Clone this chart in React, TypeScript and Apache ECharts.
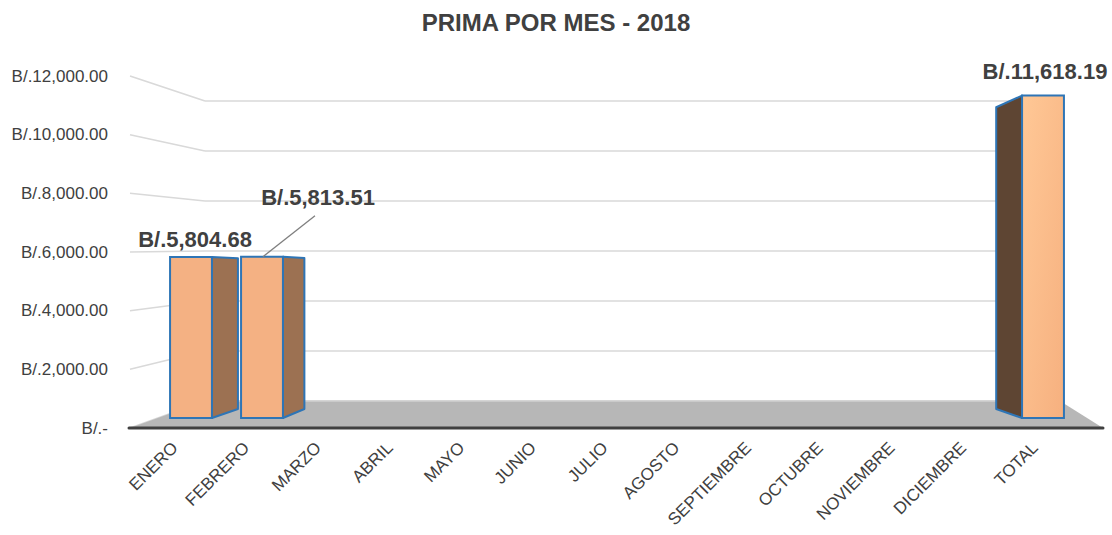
import React, { useEffect, useRef } from 'react';
import * as echarts from 'echarts';

const chartTitle = 'PRIMA POR MES - 2018';
const categories = ['ENERO', 'FEBRERO', 'MARZO', 'ABRIL', 'MAYO', 'JUNIO', 'JULIO', 'AGOSTO', 'SEPTIEMBRE', 'OCTUBRE', 'NOVIEMBRE', 'DICIEMBRE', 'TOTAL'];
const primaValues: (number | null)[] = [5804.68, 5813.51, null, null, null, null, null, null, null, null, null, null, 11618.19];
const yTicks = [0, 2000, 4000, 6000, 8000, 10000, 12000];
const Y_MAX = 12000;
const Y_STEP = 2000;

// ---- layout / style (not data) ----
const W = 1112;
const H = 535;
const FONT = '"Liberation Sans", Arial, sans-serif';
const TEXT = '#404040';
const FRONT = { left: 130, right: 50, top: 76, bottom0: 428 }; // front plane (floor edge)
const LABELS = { left: 139, right: 41 }; // category label band
const WALL = { left: 205, right: 52, top: 101, bottom0: 401 }; // back wall
const BARS = { left: 155.5, right: 33.5, top: 85, bottom0: 418 }; // bar front faces
const FLOOR_RIGHT_FRONT = 1103;
const VP = [618, 278];
const DEPTH_K = 0.936;
const FACE_RATIO = 0.59;
const BORDER = '#2E75B6';
const LABEL_SHIFT: Record<number, [number, number, boolean]> = {
  0: [4, -17, false],
  1: [56, -59, true],
  12: [2, -24, false],
};

const fmt = (n: number) => n.toFixed(2).replace(/\B(?=(\d{3})+(?!\d))/g, ',');
const money = (n: number) => (n === 0 ? 'B/.-' : 'B/.' + fmt(n));

export default function App() {
  const ref = useRef<HTMLDivElement>(null);

  useEffect(() => {
    if (!ref.current) return;
    const chart = echarts.init(ref.current, undefined, { renderer: 'svg' });

    const barData = categories
      .map((c, i) => [i, primaValues[i]])
      .filter((d) => d[1] !== null && d[1] !== undefined);

    const proj = (x: number, y: number) => [VP[0] + DEPTH_K * (x - VP[0]), VP[1] + DEPTH_K * (y - VP[1])];

    chart.setOption({
      animation: false,
      title: {
        text: chartTitle,
        left: 'center',
        top: 5,
        textStyle: { fontSize: 24, fontWeight: 'bold', color: TEXT, fontFamily: FONT },
      },
      grid: [
        { left: LABELS.left, right: LABELS.right, top: FRONT.top, bottom: H - FRONT.bottom0 },
        { left: WALL.left, right: WALL.right, top: WALL.top, bottom: H - WALL.bottom0 },
        { left: BARS.left, right: BARS.right, top: BARS.top, bottom: H - BARS.bottom0 },
      ],
      xAxis: [
        {
          gridIndex: 0,
          type: 'category',
          data: categories,
          axisLine: { show: false },
          axisTick: { show: false },
          axisLabel: { interval: 0, rotate: 45, margin: 17, fontSize: 17, color: TEXT, fontFamily: FONT },
        },
        { gridIndex: 1, type: 'value', min: 0, max: 1, show: false },
        { gridIndex: 2, type: 'category', data: categories, show: false },
      ],
      yAxis: [
        {
          gridIndex: 0,
          type: 'value',
          min: 0,
          max: Y_MAX,
          interval: Y_STEP,
          axisLine: { show: false },
          axisTick: { show: false },
          splitLine: { show: false },
          axisLabel: {
            margin: 22 + (LABELS.left - FRONT.left),
            fontSize: 17,
            color: TEXT,
            fontFamily: FONT,
            formatter: (v: number) => money(v),
          },
        },
        {
          gridIndex: 1,
          type: 'value',
          min: 0,
          max: Y_MAX,
          interval: Y_STEP,
          axisLine: { show: false },
          axisTick: { show: false },
          axisLabel: { show: false },
          splitLine: { show: true, lineStyle: { color: '#d9d9d9', width: 1.5 } },
        },
        { gridIndex: 2, type: 'value', min: 0, max: Y_MAX, show: false },
      ],
      series: [
        {
          // slanted part of the gridlines on the side wall
          type: 'custom',
          xAxisIndex: 1,
          yAxisIndex: 1,
          z: 0,
          silent: true,
          data: yTicks.map((v) => [0, v]),
          renderItem: (params: any, api: any) => {
            const p = api.coord([0, api.value(1)]);
            const fy = FRONT.bottom0 - ((WALL.bottom0 - p[1]) * (FRONT.bottom0 - FRONT.top)) / (WALL.bottom0 - WALL.top);
            return {
              type: 'line',
              shape: { x1: FRONT.left, y1: fy, x2: p[0], y2: p[1] },
              style: { stroke: '#d9d9d9', lineWidth: 1.5 },
            };
          },
        },
        {
          // floor + axis line
          type: 'custom',
          xAxisIndex: 1,
          yAxisIndex: 1,
          z: 1,
          silent: true,
          data: [[0, 0]],
          renderItem: (params: any, api: any) => {
            const bl = api.coord([0, 0]);
            const br = api.coord([1, 0]);
            return {
              type: 'group',
              children: [
                {
                  type: 'polygon',
                  shape: { points: [[FRONT.left, FRONT.bottom0], bl, br, [FLOOR_RIGHT_FRONT, FRONT.bottom0]] },
                  style: { fill: '#b7b7b7' },
                },
                {
                  type: 'line',
                  shape: { x1: bl[0], y1: bl[1], x2: br[0], y2: br[1] },
                  style: { stroke: '#d0d0d0', lineWidth: 1.5 },
                },
                {
                  type: 'line',
                  shape: { x1: FRONT.left - 1, y1: FRONT.bottom0, x2: FLOOR_RIGHT_FRONT, y2: FRONT.bottom0 },
                  style: { stroke: '#404040', lineWidth: 3, lineCap: 'round' },
                },
              ],
            };
          },
        },
        {
          // 3D bars
          type: 'custom',
          xAxisIndex: 2,
          yAxisIndex: 2,
          z: 3,
          data: barData,
          renderItem: (params: any, api: any) => {
            const i = api.value(0);
            const v = api.value(1);
            const top = api.coord([i, v]);
            const base = api.coord([i, 0]);
            const band = api.size([1, 0])[0];
            const fw = band * FACE_RATIO;
            const xl = top[0] - fw / 2;
            const xr = top[0] + fw / 2;
            const rightSide = top[0] < VP[0];
            const ex = rightSide ? xr : xl;
            const sidePts = [[ex, top[1]], proj(ex, top[1]), proj(ex, base[1]), [ex, base[1]]];
            const sideFill = rightSide ? '#9C7152' : '#5E4533';
            const frontFill = rightSide
              ? '#F4B183'
              : new echarts.graphic.LinearGradient(0, 0, 1, 1, [
                  { offset: 0, color: '#FFC896' },
                  { offset: 1, color: '#F6B07F' },
                ]);
            const sh = LABEL_SHIFT[i] || [0, -20, false];
            const lx = top[0] + sh[0];
            const ly = top[1] + sh[1];
            const children: any[] = [
              {
                type: 'polygon',
                shape: { points: sidePts },
                style: { fill: sideFill, stroke: BORDER, lineWidth: 2, lineJoin: 'round' },
              },
              {
                type: 'rect',
                shape: { x: xl, y: top[1], width: fw, height: base[1] - top[1] },
                style: { fill: frontFill, stroke: BORDER, lineWidth: 2 },
              },
            ];
            if (sh[2]) {
              children.push({
                type: 'line',
                shape: { x1: top[0] + 1, y1: top[1], x2: lx - 3, y2: ly + 18 },
                style: { stroke: '#7f7f7f', lineWidth: 1.3 },
              });
            }
            children.push({
              type: 'text',
              style: {
                text: 'B/.' + fmt(v),
                x: lx,
                y: ly,
                align: 'center',
                verticalAlign: 'middle',
                fill: TEXT,
                font: 'bold 22px ' + FONT,
              },
            });
            return { type: 'group', children };
          },
        },
      ],
    });

    return () => chart.dispose();
  }, []);

  return <div ref={ref} style={{ position: 'absolute', left: 0, top: 0, width: W, height: H }} />;
}
